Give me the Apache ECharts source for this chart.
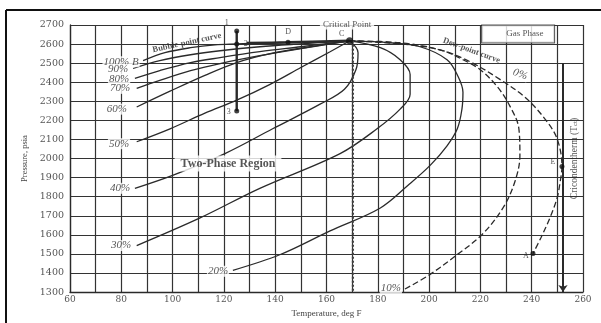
<!DOCTYPE html>
<html><head><meta charset="utf-8">
<script src="https://cdn.jsdelivr.net/npm/echarts@6/dist/echarts.min.js"></script>
<style>html,body{margin:0;padding:0;background:#fff}#c{width:601px;height:323px}</style>
</head><body><div id="c"></div>
<script>
// Axis ranges (deg F, psia)
const tempRange = [60, 260];
const pressRange = [1300, 2700];
const tempStep = 10;
const pressStep = 100;

// Quality lines (liquid volume %), [temperature, pressure]
const q100 = [[88.5,2513],[97,2555],[107,2581],[116.5,2596],[125,2601],[135,2606],[145,2609],[157.5,2612],[169,2617]];
const q90 = [[84.6,2472],[95,2513],[107,2544],[118.5,2565],[134,2586],[150,2601],[169,2617]];
const q80 = [[85.3,2420],[95,2461],[107,2503],[118.5,2529],[134,2560],[150,2586],[169,2617]];
const q70 = [[86,2368],[95,2410],[107,2461],[118.5,2498],[134,2539],[150,2576],[169,2617]];
const q60 = [[86,2270],[99,2353],[112.6,2436],[125,2503],[138,2550],[153.6,2586],[169,2617]];
const q50 = [[86,2088],[99,2156],[112.6,2238],[125,2306],[138,2389],[150,2477],[161.4,2560],[169,2617]];
const q40 = [[85.3,1844],[100,1912],[120.4,2026],[139,2156],[157.5,2285],[167,2363],[171.5,2467],[172.3,2555],[169,2617]];
const q30 = [[86,1544],[110.7,1689],[134,1844],[165.3,2026],[179.7,2156],[188.7,2259],[192.6,2337],[192.6,2441],[188.7,2518],[181,2581],[169,2617]];
const q20 = [[123.5,1414],[142,1497],[161.4,1621],[181,1741],[191.8,1860],[200.4,1964],[207,2067],[211,2156],[212.8,2259],[213.2,2347],[211.3,2430],[207,2518],[196.5,2586],[184.8,2607],[169,2617]];
const q10 = [[190.6,1316],[200.4,1393],[211,1497],[220.6,1601],[228.8,1741],[233.5,1881],[235.4,2016],[235,2156],[231.5,2275],[226.5,2378],[219.8,2467],[213.2,2518],[204.2,2570],[188.7,2601],[169,2617]];
const q0 = [[169,2617],[188.7,2607],[204.2,2570],[215.9,2508],[227.6,2415],[237.4,2321],[245.2,2207],[249.9,2104],[251.8,1958],[251,1870],[249.9,1793],[247.1,1689],[243.6,1585],[240.5,1502]];

// Path segments
const bubbleThick = [[129,2605],[145,2609],[169,2617]];
const isotherm = [[125,2669],[125,2249]];
const criticalTemp = [[170.3,2617],[170.3,1300]];
const cricondentherm = [[252.2,2500],[252.2,1300]];

// Named points
const pointNames = ['1','2','3','D','C','E','A'];
const pointValues = [[125,2669],[125,2601],[125,2249],[145,2609],[169,2617],[251.8,1958],[240.5,1502]];

// Quality labels
const qualityText = ['100% B','90%','80%','70%','60%','50%','40%','30%','20%','10%','0%'];
const qualityPos = [[79.9,2508],[78.7,2467],[79.1,2415],[79.5,2368],[78.3,2259],[79.1,2078],[79.5,1844],[79.9,1544],[117.7,1409],[185.1,1321],[235.5,2441]];

const serif = 'Liberation Serif';
const ink = '#2a2a2a';

function lineSeries(data, opts) {
  opts = opts || {};
  return {
    type: 'line', data: data, smooth: opts.smooth === undefined ? 0.35 : opts.smooth,
    symbol: 'none', silent: true, clip: false, z: opts.z || 3,
    lineStyle: { color: opts.color || ink, width: opts.width || 1.3, type: opts.type || 'solid' }
  };
}

const qualityLabels = qualityText.map((t, i) => ({
  value: qualityPos[i],
  label: {
    show: true, position: 'inside', formatter: t,
    fontFamily: serif, fontStyle: 'italic', fontSize: 11, color: ink,
    backgroundColor: '#fff', padding: [0, 1],
    rotate: t === '0%' ? -20 : 0
  }
}));

const textItems = [
  { value: [121.6, 1974], label: { formatter: 'Two-Phase Region', fontWeight: 'bold', fontSize: 12, backgroundColor: '#fff', padding: [2, 6] } },
  { value: [168, 2700], label: { formatter: 'Critical Point', fontSize: 9, backgroundColor: '#fff', padding: [0, 3] } },
  { value: [234.7, 2653], label: { formatter: '      Gas Phase', fontSize: 9, backgroundColor: '#fff', borderColor: ink, borderWidth: 1, padding: [4, 4, 4, 4], width: 64 } },
  { value: [105.6, 2607], label: { formatter: 'Bubble-point curve', fontSize: 8.5, fontWeight: 'bold', rotate: 12 } },
  { value: [216.5, 2566], label: { formatter: 'Dew-point curve', fontSize: 8.5, fontWeight: 'bold', rotate: -20 } },
  { value: [256.5, 2000], label: { formatter: 'Cricondentherm (T{s|ct})', fontSize: 9.5, rotate: 90, rich: { s: { fontSize: 7, fontFamily: serif, color: ink, verticalAlign: 'bottom' } } } }
].map(o => {
  o.label = Object.assign({ show: true, position: 'inside', fontFamily: serif, color: ink }, o.label);
  return o;
});

const pointLabelOffsets = {'1':[-10,-8],'2':[9,0],'3':[-8,1],'D':[0,-10],'C':[-8,-7],'E':[-9,-5],'A':[-7,2]};
const pointItems = pointNames.map((n, i) => ({
  value: pointValues[i],
  symbolSize: n === 'C' ? 7 : 5,
  label: { show: true, formatter: n, position: 'inside', offset: pointLabelOffsets[n], fontFamily: serif, fontSize: 8, color: ink }
}));

const chart = echarts.init(document.getElementById('c'), null, { renderer: 'canvas' });
chart.setOption({
  animation: false,
  backgroundColor: '#fff',
  grid: { left: 70, right: 18, top: 25, bottom: 28, containLabel: false },
  xAxis: {
    type: 'value', min: tempRange[0], max: tempRange[1], interval: tempStep,
    name: 'Temperature, deg F', nameLocation: 'middle', nameGap: 15,
    nameTextStyle: { fontFamily: serif, fontSize: 9, color: '#444' },
    axisLine: { show: true, lineStyle: { color: ink, width: 1.3 } },
    axisTick: { show: false },
    axisLabel: { margin: 3, fontFamily: 'DejaVu Serif', fontSize: 9, color: '#555',
      formatter: v => (v % 20 === 0 ? String(v) : '') },
    splitLine: { show: true, lineStyle: { color: '#333', width: 1.2 } }
  },
  yAxis: {
    type: 'value', min: pressRange[0], max: pressRange[1], interval: pressStep,
    name: 'Pressure, psia', nameLocation: 'middle', nameGap: 31, nameRotate: 90,
    nameTextStyle: { fontFamily: serif, fontSize: 8.5, color: '#444' },
    axisLine: { show: true, lineStyle: { color: ink, width: 1.3 } },
    axisTick: { show: false },
    axisLabel: { margin: 6, fontFamily: 'DejaVu Serif', fontSize: 9.5, color: '#555',
      formatter: v => String(v) },
    splitLine: { show: true, lineStyle: { color: '#333', width: 1.2 } }
  },
  graphic: [
    { type: 'line', shape: { x1: 6, y1: 10, x2: 601, y2: 10 }, style: { stroke: '#111', lineWidth: 2 } },
    { type: 'line', shape: { x1: 6, y1: 10, x2: 6, y2: 323 }, style: { stroke: '#111', lineWidth: 2 } }
  ],
  series: [
    lineSeries(q100), lineSeries(q90), lineSeries(q80), lineSeries(q70), lineSeries(q60),
    lineSeries(q50), lineSeries(q40), lineSeries(q30), lineSeries(q20),
    lineSeries(q10, { type: [6, 3] }), lineSeries(q0, { type: [6, 3] }),
    lineSeries(bubbleThick, { width: 2.6 }),
    lineSeries(isotherm, { width: 2.4, smooth: false }),
    lineSeries(criticalTemp, { width: 2.2, type: [2, 2], smooth: false, color: '#444' }),
    Object.assign(lineSeries(cricondentherm, { width: 2, smooth: false }), {
      markLine: { silent: true, symbol: ['none', 'arrow'], symbolSize: 7,
        label: { show: false }, lineStyle: { color: ink, width: 2, type: 'solid' },
        data: [[{ coord: cricondentherm[0] }, { coord: cricondentherm[1] }]] }
    }),
    { type: 'scatter', data: pointItems, symbol: 'circle', itemStyle: { color: '#111' }, z: 6, silent: true, clip: false },
    { type: 'scatter', data: qualityLabels, symbolSize: 0, z: 7, silent: true, clip: false },
    { type: 'scatter', data: textItems, symbolSize: 0, z: 8, silent: true, clip: false }
  ]
});
</script></body></html>
